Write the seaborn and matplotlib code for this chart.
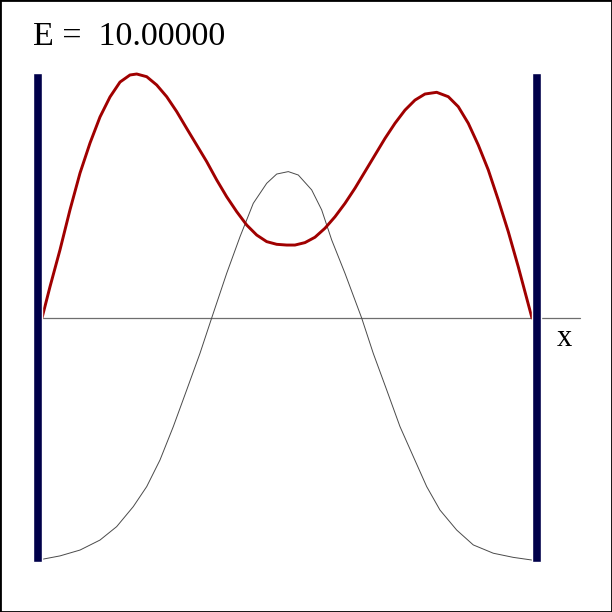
import numpy as np
import matplotlib
matplotlib.use("Agg")
import matplotlib.pyplot as plt
import seaborn as sns

# --- dados (x em unidades do poço: 0 .. 1) ---

energy = 10.0

# função de onda (vermelha)
psi_x = [0.0, 0.0163, 0.0367, 0.0571, 0.0776, 0.0980, 0.1184, 0.1388, 0.1592, 0.1796,
         0.1933, 0.2137, 0.2341, 0.2545, 0.2749, 0.2953, 0.3157, 0.3361, 0.3565, 0.3769,
         0.3973, 0.4178, 0.4382, 0.4586, 0.4790, 0.4994, 0.5163, 0.5367, 0.5571, 0.5776,
         0.5980, 0.6184, 0.6388, 0.6592, 0.6796, 0.7000, 0.7204, 0.7408, 0.7612, 0.7816,
         0.8055, 0.8292, 0.8496, 0.8700, 0.8904, 0.9108, 0.9312, 0.9516, 0.9720, 1.0]
psi_y = [0.0, 0.128, 0.279, 0.443, 0.594, 0.717, 0.824, 0.906, 0.967, 0.996,
         1.000, 0.989, 0.955, 0.907, 0.846, 0.777, 0.709, 0.641, 0.566, 0.497,
         0.436, 0.381, 0.340, 0.313, 0.302, 0.299, 0.299, 0.309, 0.331, 0.368,
         0.415, 0.470, 0.532, 0.600, 0.668, 0.736, 0.798, 0.852, 0.893, 0.918,
         0.925, 0.907, 0.866, 0.798, 0.709, 0.607, 0.484, 0.354, 0.210, 0.0]

# potencial (linha fina)
pot_x = [0.0, 0.0367, 0.0776, 0.1184, 0.1524, 0.1863, 0.2137, 0.2408, 0.2680, 0.2953,
         0.3224, 0.3463, 0.3769, 0.4041, 0.4312, 0.4586, 0.4790, 0.5027, 0.5231, 0.5504,
         0.5708, 0.5912, 0.6184, 0.6524, 0.6761, 0.7035, 0.7306, 0.7578, 0.7851, 0.8122,
         0.8463, 0.8802, 0.9210, 0.9618, 1.0]
pot_y = [-0.989, -0.975, -0.951, -0.910, -0.855, -0.773, -0.691, -0.582, -0.445, -0.295,
         -0.145, 0.0, 0.183, 0.333, 0.470, 0.552, 0.590, 0.600, 0.586, 0.525,
         0.443, 0.320, 0.183, 0.0, -0.145, -0.295, -0.445, -0.568, -0.691, -0.787,
         -0.869, -0.930, -0.964, -0.981, -0.992]

# paredes do poço
wall_edges = [0.0, 1.0]
wall_bottom = -1.0
wall_top = 1.004
axis_end = 1.098

# --- figura ---

sns.set_style("white")
plt.rcParams['font.family'] = ['Liberation Serif', 'DejaVu Serif']

fig = plt.figure(figsize=(6.12, 6.12), dpi=100)
ax = fig.add_axes([0, 0, 1, 1])

# eixo x
ax.plot([0, axis_end], [0, 0], color="#6e6e6e", linewidth=0.9, zorder=1)

sns.lineplot(x=pot_x, y=pot_y, ax=ax, color="#4a4a4a", linewidth=0.7,
             sort=False, estimator=None, zorder=2, solid_joinstyle="round")
sns.lineplot(x=psi_x, y=psi_y, ax=ax, color="#a00000", linewidth=2.1,
             sort=False, estimator=None, zorder=3, solid_joinstyle="round")

wall_w = 0.0184
ax.bar(wall_edges, wall_top - wall_bottom, bottom=wall_bottom,
       width=[-wall_w, wall_w], align="edge", color="#00004a", zorder=4)

ax.text(-0.0184, 1.12, f"E =  {energy:.5f}", fontsize=24.5, ha="left",
        va="baseline", color="black")
ax.text(1.051, -0.115, "x", fontsize=22, ha="left", va="baseline", color="black")

ax.set_xlim(-0.0857, 1.1633)
ax.set_ylim(-1.2049, 1.3033)
ax.set_xticks([])
ax.set_yticks([])
for s in ax.spines.values():
    s.set_visible(True)
    s.set_color("black")
    s.set_linewidth(2)

fig.savefig("out.png", dpi=100)
